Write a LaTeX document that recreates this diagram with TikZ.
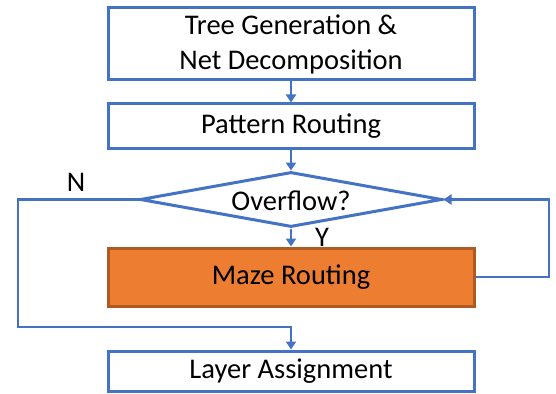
\documentclass[tikz,border=0pt]{standalone}
\usepackage{fontspec}
\setmainfont{Carlito}
\usetikzlibrary{shapes.geometric,arrows.meta}
\definecolor{bblue}{HTML}{4472C4}
\definecolor{morange}{HTML}{ED7D31}
\definecolor{mborder}{HTML}{AE5A21}
\begin{document}
\begin{tikzpicture}[x=1pt,y=-1pt,
  txt/.style={font=\fontsize{28.5}{35}\selectfont,text=black},
  box/.style={txt,draw=bblue,line width=3pt,minimum width=366pt,inner sep=0pt,align=center},
  conn/.style={draw=bblue,line width=2.5pt,-{Triangle[width=10pt,length=8pt]}}]
\useasboundingbox (0,0) rectangle (556,393);
\node[box,minimum height=72pt] (b1) at (291,44) {Tree Generation \&\\Net Decomposition};
\node[box,minimum height=44pt] (b2) at (291,126) {Pattern Routing};
\node[diamond,draw=bblue,line width=3pt,minimum width=302pt,minimum height=55pt,inner sep=0pt] (d) at (291,199.5) {};
\node[txt] (dt) at (291,201) {Overflow?};
\node[box,fill=morange,draw=mborder,minimum height=58pt] (m) at (291,277) {Maze Routing};
\node[box,minimum height=40pt] (l) at (291,371) {Layer Assignment};
\coordinate (r1) at (549,277);
\coordinate (r2) at (549,199.5);
\coordinate (l1) at (18,199.5);
\coordinate (l2) at (18,327);
\coordinate (l3) at (291,327);
\draw[conn] (b1) -- (b2);
\draw[conn] (b2) -- (d.north);
\draw[conn] (d.south) -- (m);
\draw[conn] (m.east) -- (r1) -- (r2) -- (d.east);
\draw[conn] (d.west) -- (l1) -- (l2) -- (l3) -- (l.north);
\node[txt] (nl) at (76,182) {N};
\node[txt] (yl) at (322,237) {Y};
\end{tikzpicture}
\end{document}
